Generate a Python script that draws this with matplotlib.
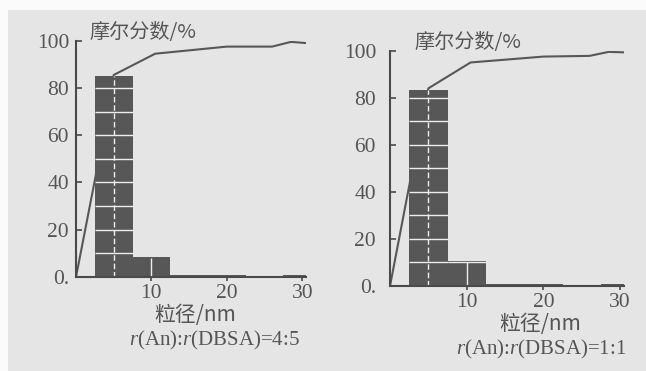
import matplotlib
matplotlib.use('Agg')
import matplotlib.pyplot as plt
from matplotlib.patches import Rectangle
import numpy as np

plt.rcParams['mathtext.fontset'] = 'custom'
plt.rcParams['mathtext.rm'] = 'Liberation Serif'
plt.rcParams['mathtext.it'] = 'Liberation Serif:italic'

# histogram bins (nm), width 5
bin_centers = [5, 10, 15, 20, 25, 30]
bin_width = 5
heights_45 = [85, 8.5, 1, 1, 0, 1]
heights_11 = [83.5, 10.5, 1, 1, 0, 1]

# cumulative curve
cum_x = [0, 2.5, 5, 10.5, 20, 26, 28.5, 30.5]
cum_45 = [0, 41, 85.5, 94.5, 97.5, 97.5, 99.5, 99]
cum_11 = [0, 42.5, 84, 95, 97.5, 97.8, 99.5, 99.3]

y_ticks = [0, 20, 40, 60, 80, 100]
y_ticklabels = ['0.', '20', '40', '60', '80', '100']
x_ticks = [10, 20, 30]

ylabel = '摩尔分数/%'
xlabel = '粒径/nm'
captions = [r'$\mathit{r}$(An):$\mathit{r}$(DBSA)=4:5',
            r'$\mathit{r}$(An):$\mathit{r}$(DBSA)=1:1']

BG = '#e5e5e5'
DARK = '#575757'
TXT = '#555555'
CJK = ['Noto Sans CJK SC', 'DejaVu Sans']
SERIF = 'Liberation Serif'

fig = plt.figure(figsize=(6.46, 3.71), dpi=100)
fig.patch.set_facecolor('#fbfbfb')
fig.patches.append(Rectangle((8 / 646, 0), 1, 361 / 371, transform=fig.transFigure,
                             facecolor=BG, edgecolor='none', zorder=-10))

positions = [
    [76 / 646, 94 / 371, 230 / 646, 236.3 / 371],
    [390 / 646, 85 / 371, 234 / 646, 235.3 / 371],
]
panels = [(heights_45, cum_45), (heights_11, cum_11)]
ylab_x = [0.057, 0.105]

for i, (pos, (heights, cum)) in enumerate(zip(positions, panels)):
    ax = fig.add_axes(pos)
    ax.set_facecolor('none')
    ax.set_xlim(0, 30.5)
    ax.set_ylim(0, 100)

    ax.plot(cum_x, cum, color=DARK, lw=1.5, zorder=1)
    ax.bar(bin_centers, heights, width=bin_width, color=DARK, edgecolor='none', zorder=2)

    # white grid visible only within the bars
    for c, h in zip(bin_centers, heights):
        levels = [lv for lv in range(10, 100, 10) if lv < h]
        if levels:
            ax.hlines(levels, c - bin_width / 2, c + bin_width / 2, colors='#eeeeee',
                      lw=1.0, zorder=3)
    ax.vlines(5, 0, heights[0], colors='#eeeeee', lw=1.0, linestyles=(0, (4, 2)), zorder=3)
    ax.vlines(10, 0, min(heights[1], heights[0]) - 0.3, colors='#eeeeee', lw=1.0, zorder=3)

    for s in ['top', 'right']:
        ax.spines[s].set_visible(False)
    for s in ['left', 'bottom']:
        ax.spines[s].set_color('#4a4a4a')
        ax.spines[s].set_linewidth(1.5)
        ax.spines[s].set_zorder(4)

    ax.set_yticks(y_ticks)
    ax.set_yticklabels(y_ticklabels, fontfamily=SERIF, fontsize=15.5, color=TXT)
    ax.set_xticks(x_ticks)
    ax.set_xticklabels([str(t) for t in x_ticks], fontfamily=SERIF, fontsize=15.5, color=TXT)
    ax.tick_params(axis='y', direction='in', length=4, width=1.2, color='#4a4a4a',
                   pad=5 if i == 0 else 10)
    ax.tick_params(axis='x', direction='out', length=3, width=1.2, color='#4a4a4a', pad=2)

    ax.text(ylab_x[i], 1.035, ylabel, transform=ax.transAxes, family=CJK, fontsize=14.5,
            color=TXT, ha='left', va='center')
    ax.text(0.52 if i == 0 else 0.64, -0.16, xlabel, transform=ax.transAxes, family=CJK,
            fontsize=15, color=TXT, ha='center', va='center')
    ax.text(0.6 if i == 0 else 0.645, -0.27, captions[i], transform=ax.transAxes,
            family=SERIF, fontsize=15, color=TXT, ha='center', va='center')

fig.savefig('out.png', dpi=100, facecolor=fig.get_facecolor())
